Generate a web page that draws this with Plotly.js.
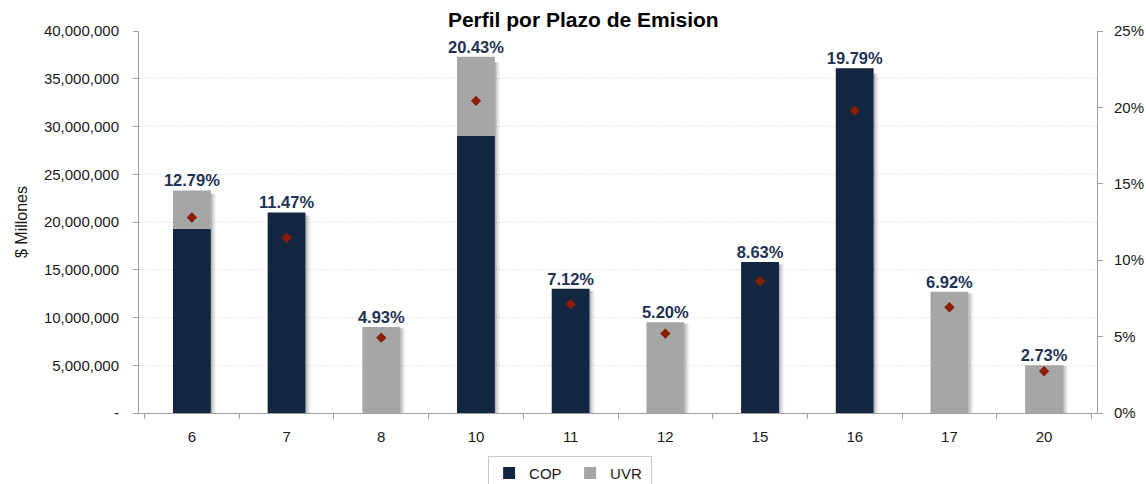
<!DOCTYPE html>
<html>
<head>
<meta charset="utf-8">
<script src="https://cdn.plot.ly/plotly-3.0.1.min.js"></script>
<style>html,body{margin:0;padding:0;background:#fff;}#chart{width:1146px;height:484px;}</style>
</head>
<body>
<div id="chart"></div>
<script>
var plazos = ['6', '7', '8', '10', '11', '12', '15', '16', '17', '20'];
var cop = [19300000, 21000000, 0, 29000000, 13000000, 0, 15800000, 36100000, 0, 0];
var uvr = [4000000, 0, 9000000, 8300000, 0, 9500000, 0, 0, 12700000, 5000000];
var pct = [12.79, 11.47, 4.93, 20.43, 7.12, 5.20, 8.63, 19.79, 6.92, 2.73];
var yTickVals = [0, 5000000, 10000000, 15000000, 20000000, 25000000, 30000000, 35000000, 40000000];
var yTickText = ['-', '5,000,000', '10,000,000', '15,000,000', '20,000,000', '25,000,000', '30,000,000', '35,000,000', '40,000,000'];
var y2TickVals = [0, 5, 10, 15, 20, 25];
var y2TickText = ['0%', '5%', '10%', '15%', '20%', '25%'];

var totals = cop.map(function (v, i) { return v + uvr[i]; });
var shadowTop = totals.map(function (t) { return t * 0.985; });
var pctText = pct.map(function (p) { return p.toFixed(2) + '%'; });

var FONT = 'Liberation Sans, Arial, sans-serif';
var NAVY = '#13263f';
var GRAY = '#a6a6a6';
var BW = 0.4;

function shadow(off, color) {
  return { type: 'bar', x: plazos, y: shadowTop, width: 0.014, offset: BW / 2 + off,
    marker: { color: color, line: { width: 0 } }, showlegend: false, hoverinfo: 'skip' };
}

var traces = [
  shadow(0.0, 'rgba(0,0,0,0.30)'),
  shadow(0.014, 'rgba(0,0,0,0.18)'),
  shadow(0.028, 'rgba(0,0,0,0.10)'),
  shadow(0.042, 'rgba(0,0,0,0.04)'),
  { type: 'bar', name: 'COP', x: plazos, y: cop, marker: { color: NAVY, line: { width: 0 } }, width: BW, hoverinfo: 'skip' },
  { type: 'bar', name: 'UVR', x: plazos, y: uvr, base: cop, marker: { color: GRAY, line: { width: 0 } }, width: BW, hoverinfo: 'skip' },
  { type: 'scatter', mode: 'text', x: plazos, y: totals, text: pctText, textposition: 'top center',
    textfont: { family: FONT, size: 16.5, color: '#1f3354', weight: 'bold' }, showlegend: false, hoverinfo: 'skip', cliponaxis: false },
  { type: 'scatter', mode: 'markers', x: plazos, y: pct, yaxis: 'y2', showlegend: false,
    marker: { symbol: 'diamond', size: 8, color: '#8b1e06' }, hoverinfo: 'skip' }
];

var layout = {
  width: 1146, height: 484,
  margin: { l: 139, r: 49, t: 31, b: 71, autoexpand: false },
  paper_bgcolor: '#fff', plot_bgcolor: '#fff',
  barmode: 'overlay',
  font: { family: FONT, size: 15, color: '#1a1a1a' },
  title: { text: '<b>Perfil por Plazo de Emision</b>', x: 0.509, xanchor: 'center', y: 0.96, yanchor: 'middle',
    font: { family: FONT, size: 21, color: '#000' } },
  xaxis: {
    type: 'category', tickson: 'boundaries', ticks: 'outside', ticklen: 5, tickcolor: '#a0a0a0',
    showline: true, linecolor: '#a0a0a0', linewidth: 1, showgrid: false, zeroline: false, automargin: false,
    ticklabelstandoff: 10,
    tickfont: { family: FONT, size: 15, color: '#1a1a1a' }
  },
  yaxis: {
    range: [0, 40000000], tickvals: yTickVals, ticktext: yTickText, ticks: 'outside', ticklen: 5, tickcolor: '#a0a0a0',
    showline: true, linecolor: '#a0a0a0', linewidth: 1, zeroline: false, automargin: false,
    showgrid: true, gridcolor: '#d4d4d4', griddash: '1px,2px', gridwidth: 1,
    ticklabelstandoff: 11,
    title: { text: '$ Millones', standoff: 12, font: { family: FONT, size: 16, color: '#1a1a1a' } },
    tickfont: { family: FONT, size: 15, color: '#1a1a1a' }
  },
  yaxis2: {
    overlaying: 'y', side: 'right', range: [0, 25], tickvals: y2TickVals, ticktext: y2TickText,
    ticks: 'outside', ticklen: 5, tickcolor: '#a0a0a0', showline: true, linecolor: '#a0a0a0', linewidth: 1,
    showgrid: false, zeroline: false, ticklabelstandoff: 8, automargin: false,
    tickfont: { family: FONT, size: 15, color: '#1a1a1a' }
  },
  legend: {
    orientation: 'h', x: 0.45, xanchor: 'center', y: -0.112, yanchor: 'top',
    bordercolor: '#c8c8c8', borderwidth: 1, font: { family: FONT, size: 15, color: '#1a1a1a' },
    traceorder: 'normal', itemwidth: 30, entrywidth: 36
  },
  showlegend: true
};

Plotly.newPlot('chart', traces, layout, { displayModeBar: false, staticPlot: true });
</script>
</body>
</html>
